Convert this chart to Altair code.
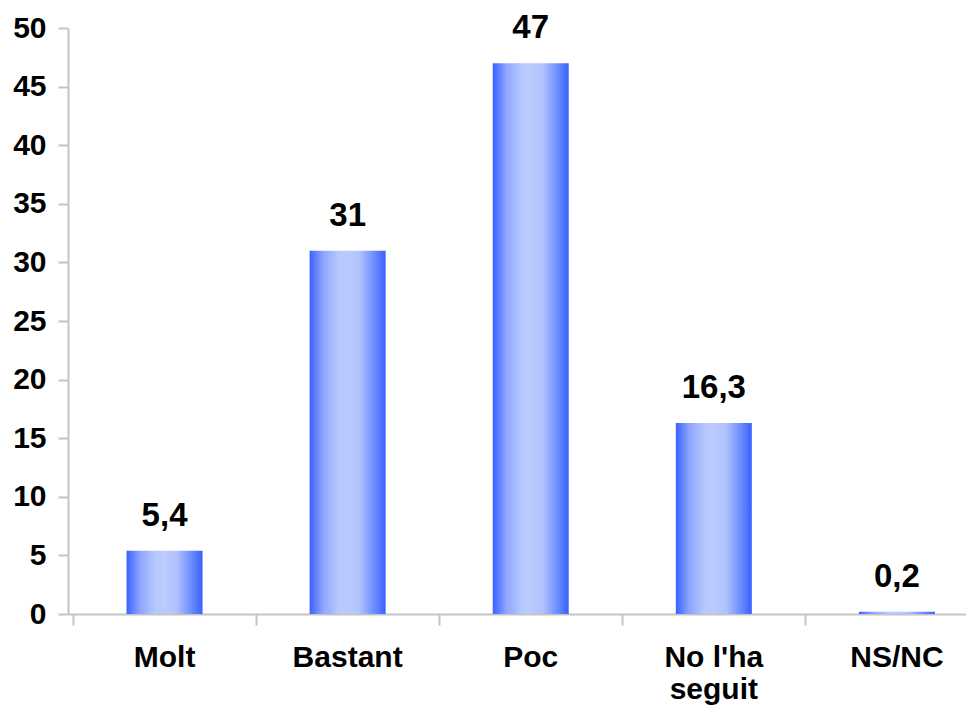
import altair as alt
import pandas as pd

categories = ["Molt", "Bastant", "Poc", "No l'ha\nseguit", "NS/NC"]
values = [5.4, 31, 47, 16.3, 0.2]
value_labels = ["5,4", "31", "47", "16,3", "0,2"]
positions = [0, 1, 2, 3, 4]
y_ticks = list(range(0, 51, 5))
x_boundaries = [-0.5, 0.5, 1.5, 2.5, 3.5]

df = pd.DataFrame({"pos": positions, "cat": categories, "value": values, "label": value_labels})

FONT = "Liberation Sans"
GRAY = "#c4c4c4"

x = alt.X("pos:Q", scale=alt.Scale(domain=[-0.5, 4.35], nice=False, zero=False),
          axis=alt.Axis(values=x_boundaries, labels=False, title=None, tickSize=11,
                        domainColor=GRAY, tickColor=GRAY, domainWidth=2, tickWidth=2, grid=False))
y = alt.Y("value:Q", scale=alt.Scale(domain=[0, 50], nice=False),
          axis=alt.Axis(values=y_ticks, title=None, tickSize=10, labelPadding=12,
                        labelFont=FONT, labelFontSize=30, labelFontWeight="bold", labelColor="black",
                        domainColor=GRAY, tickColor=GRAY, domainWidth=2, tickWidth=2, grid=False))

gradient = alt.Gradient(
    gradient="linear",
    stops=[
        alt.GradientStop(color="#3a62ff", offset=0),
        alt.GradientStop(color="#8ea6ff", offset=0.18),
        alt.GradientStop(color="#b6c8fe", offset=0.38),
        alt.GradientStop(color="#bccbfc", offset=0.5),
        alt.GradientStop(color="#b0c2fe", offset=0.66),
        alt.GradientStop(color="#7090ff", offset=0.84),
        alt.GradientStop(color="#3a60ff", offset=1),
    ],
    x1=0, x2=1, y1=0, y2=0,
)

bars = alt.Chart(df).mark_bar(size=76, color=gradient).encode(x=x, y=y)

labels = alt.Chart(df).mark_text(
    font=FONT, fontSize=33, fontWeight="bold", baseline="alphabetic", dy=-25, color="black"
).encode(x="pos:Q", y="value:Q", text="label:N")

cats = alt.Chart(df).mark_text(
    font=FONT, fontSize=30, fontWeight="bold", baseline="alphabetic", lineBreak="\n",
    lineHeight=32, color="black"
).encode(x="pos:Q", y=alt.value(639), text="cat:N")

chart = alt.layer(bars, labels, cats).properties(
    width=898, height=586,
    autosize=alt.AutoSizeParams(type="none"),
    padding={"left": 60, "top": 20, "right": 0, "bottom": 93},
).configure_view(stroke=None)

chart.save("out.html", embed_options={"renderer": "svg", "actions": False})
